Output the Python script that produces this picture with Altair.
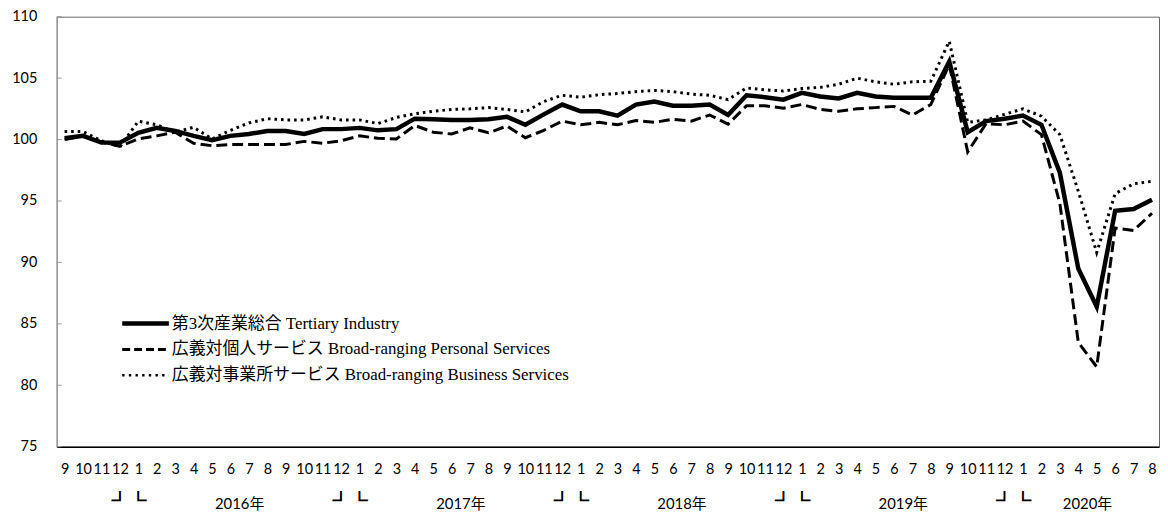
import altair as alt
import pandas as pd

# ---- data -------------------------------------------------------------
months = [9, 10, 11, 12] + list(range(1, 13)) * 4 + list(range(1, 9))
years = [2015] * 4 + [2016] * 12 + [2017] * 12 + [2018] * 12 + [2019] * 12 + [2020] * 8

tertiary = [
    100.1, 100.3, 99.75, 99.75,
    100.55, 100.95, 100.7, 100.3, 99.95, 100.3, 100.45, 100.7, 100.7, 100.45, 100.85, 100.85,
    100.95, 100.75, 100.85, 101.7, 101.65, 101.6, 101.6, 101.65, 101.85, 101.2, 102.05, 102.85,
    102.3, 102.3, 101.95, 102.85, 103.1, 102.75, 102.75, 102.85, 102.0, 103.6, 103.45, 103.25,
    103.8, 103.5, 103.35, 103.8, 103.5, 103.4, 103.4, 103.4, 106.35, 100.6, 101.5, 101.7,
    101.95, 101.2, 97.3, 89.5, 86.4, 94.2, 94.35, 95.1,
]
personal = [
    100.0, 100.3, 99.8, 99.45,
    100.05, 100.3, 100.6, 99.7, 99.5, 99.6, 99.6, 99.6, 99.6, 99.85, 99.7, 99.9,
    100.3, 100.1, 100.05, 101.15, 100.6, 100.45, 100.95, 100.55, 101.1, 100.15, 100.75, 101.5,
    101.2, 101.4, 101.2, 101.55, 101.4, 101.65, 101.5, 102.0, 101.25, 102.75, 102.75, 102.55,
    102.85, 102.45, 102.3, 102.5, 102.6, 102.7, 102.0, 102.85, 106.1, 99.0, 101.3, 101.2,
    101.5, 100.4, 94.8, 83.5, 81.5, 92.8, 92.6, 94.0,
]
business = [
    100.65, 100.65, 99.9, 99.4,
    101.5, 101.2, 100.6, 101.0, 100.05, 100.75, 101.35, 101.7, 101.6, 101.6, 101.85, 101.6,
    101.6, 101.3, 101.8, 102.1, 102.3, 102.45, 102.5, 102.6, 102.45, 102.25, 103.1, 103.6,
    103.45, 103.65, 103.75, 103.9, 104.0, 103.9, 103.7, 103.6, 103.25, 104.2, 104.05, 103.95,
    104.15, 104.25, 104.5, 105.0, 104.7, 104.5, 104.7, 104.75, 108.0, 101.4, 101.6, 102.05,
    102.5, 101.9, 100.4, 95.8, 90.8, 95.6, 96.4, 96.6,
]

legend_labels = [
    "第3次産業総合 Tertiary Industry",
    "広義対個人サービス Broad-ranging Personal Services",
    "広義対事業所サービス Broad-ranging Business Services",
]
y_ticks = [75, 80, 85, 90, 95, 100, 105, 110]
year_names = ["2016年", "2017年", "2018年", "2019年", "2020年"]

# ---- tables ------------------------------------------------------------
n = len(months)
idx = list(range(n))
df = pd.DataFrame({"idx": idx, "month": months, "year": years,
                   "tertiary": tertiary, "personal": personal, "business": business})

year_rows = []
for name in year_names:
    y = int(name[:4])
    ids = [i for i in idx if years[i] == y]
    year_rows.append({"c": sum(ids) / len(ids), "label": name})
df_years = pd.DataFrame(year_rows)

bracket_rows = []
for i in idx:
    if months[i] == 12:
        bracket_rows.append({"c": i, "label": "┘"})
    if months[i] == 1:
        bracket_rows.append({"c": i, "label": "└"})
df_br = pd.DataFrame(bracket_rows)
df_ticks = pd.DataFrame({"v": y_ticks})

# ---- layout -----------------------------------------------------------
W, H = 1110, 433
FONT = "Lato, Noto Sans CJK JP"

x_scale = alt.Scale(domain=[-0.43, 59.38], nice=False, zero=False)
y_scale = alt.Scale(domain=[75, 110], nice=False, zero=False)

month_expr = "[" + ",".join(f"'{m}'" for m in months) + "][datum.value]"

x_axis = alt.Axis(values=idx, labelExpr=month_expr, ticks=False, tickSize=0, grid=False,
                  domain=True, domainColor="black", domainWidth=1.5,
                  labelFontSize=14.5, labelFont=FONT, labelColor="black",
                  labelPadding=16, labelOverlap=False, labelFlush=False, title=None)
y_axis = alt.Axis(values=y_ticks, ticks=False, tickSize=0, grid=False,
                  domain=True, domainColor="#999",
                  labelFontSize=14.5, labelFont=FONT, labelColor="black",
                  labelPadding=20, title=None)

X = alt.X("idx:Q", scale=x_scale, axis=x_axis)

base = alt.Chart(df)

business_line = base.mark_line(color="black", strokeWidth=3, strokeDash=[2.6, 4]).encode(
    x=X, y=alt.Y("business:Q", scale=y_scale, axis=y_axis))
personal_line = base.mark_line(color="black", strokeWidth=3, strokeDash=[11, 5]).encode(
    x=X, y=alt.Y("personal:Q", scale=y_scale, axis=y_axis))
tertiary_line = base.mark_line(color="black", strokeWidth=4.5).encode(
    x=X, y=alt.Y("tertiary:Q", scale=y_scale, axis=y_axis))

tick_marks = alt.Chart(df_ticks).mark_rule(color="#999", strokeWidth=1).encode(
    y=alt.Y("v:Q", scale=y_scale, axis=y_axis), x=alt.value(0), x2=alt.value(5))

year_text = alt.Chart(df_years).mark_text(
    fontSize=15, font=FONT, color="black", align="center", baseline="middle").encode(
    x=alt.X("c:Q", scale=x_scale, axis=x_axis), y=alt.value(H + 58), text="label:N")

bracket_text = alt.Chart(df_br).mark_text(
    fontSize=16, font="Noto Sans CJK JP", fontWeight="bold", color="black",
    stroke="black", strokeWidth=1.2,
    align="center", baseline="middle").encode(
    x=alt.X("c:Q", scale=x_scale, axis=x_axis), y=alt.value(H + 55), text="label:N")

# legend
LX0, LX1, LTX = 66, 113, 116
LY = [309, 335, 361]
dummy = alt.Data(values=[{"k": 0}])
leg_solid = alt.Chart(dummy).mark_rule(color="black", strokeWidth=4.5).encode(
    x=alt.value(LX0), x2=alt.value(LX1), y=alt.value(LY[0]))
leg_dash = alt.Chart(dummy).mark_rule(color="black", strokeWidth=3, strokeDash=[8, 4]).encode(
    x=alt.value(LX0), x2=alt.value(LX1), y=alt.value(LY[1]))
leg_dot = alt.Chart(dummy).mark_rule(color="black", strokeWidth=2.5, strokeDash=[2.4, 4.3]).encode(
    x=alt.value(LX0), x2=alt.value(LX1), y=alt.value(LY[2]))
leg_texts = [
    alt.Chart(dummy).mark_text(fontSize=17, font="Liberation Serif, Noto Sans CJK JP",
                               color="black", align="left", baseline="middle").encode(
        x=alt.value(LTX), y=alt.value(LY[i]), text=alt.value(legend_labels[i]))
    for i in range(3)
]

chart = alt.layer(
    tick_marks, business_line, personal_line, tertiary_line,
    year_text, bracket_text, leg_solid, leg_dash, leg_dot, *leg_texts,
).properties(
    width=W, height=H,
    autosize=alt.AutoSizeParams(type="none"),
    padding={"left": 49, "top": 7, "right": 1, "bottom": 67},
).configure_view(stroke="#666", strokeWidth=1)

chart.save("out.html", embed_options={"renderer": "svg", "actions": False})
